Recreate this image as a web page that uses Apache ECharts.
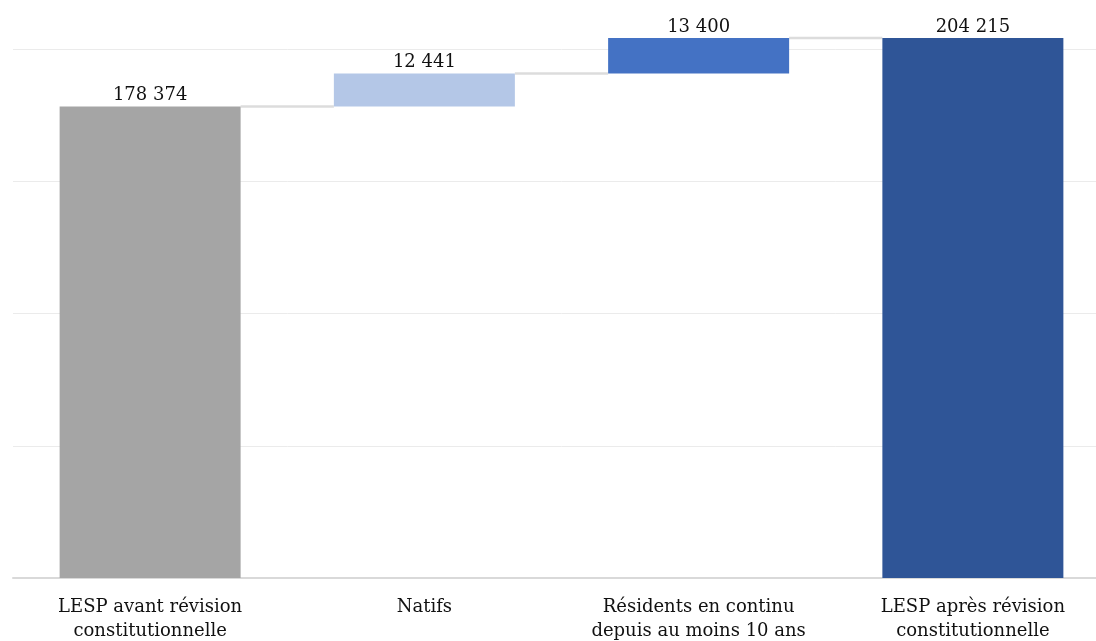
<!DOCTYPE html>
<html>
<head>
<meta charset="utf-8">
<script src="https://cdn.jsdelivr.net/npm/echarts@6/dist/echarts.min.js"></script>
<style>
  html, body { margin: 0; padding: 0; background: #ffffff; overflow: hidden; }
  body { width: 1096px; height: 641px; position: relative; }
  /* plot area runs past the right and top edges of the page */
  #chart { position: absolute; left: 0; top: -90px; width: 1110px; height: 731px; }
</style>
</head>
<body>
<div id="chart"></div>
<script>
// Categories of the waterfall
const categories = [
  'LESP avant révision\nconstitutionnelle',
  'Natifs',
  'Résidents en continu\ndepuis au moins 10 ans',
  'LESP après révision\nconstitutionnelle'
];
// Step values: starting total, two additions, final total
const steps = [178374, 12441, 13400, 204215];
// Which steps are totals (drawn from zero)
const isTotal = [true, false, false, true];
const barColors = ['#a5a5a5', '#b4c7e7', '#4472c4', '#2f5597'];

// Invisible base under each floating bar, and the running top of each bar
const base = [];
const tops = [];
let running = 0;
steps.forEach((v, i) => {
  if (isTotal[i]) {
    base.push(0);
    running = v;
  } else {
    base.push(running);
    running += v;
  }
  tops.push(running);
});

const fmt = n => String(n).replace(/\B(?=(\d{3})+(?!\d))/g, ' ');
const BAR_RATIO = 0.66;
const FONT = 'DejaVu Serif';

const chart = echarts.init(document.getElementById('chart'));
chart.setOption({
  animation: false,
  backgroundColor: '#ffffff',
  grid: { left: 13, right: 0, top: 7, bottom: 63, containLabel: false, outerBoundsMode: 'none' },
  xAxis: {
    type: 'category',
    data: categories,
    axisLine: { show: true, lineStyle: { color: '#d9d9d9', width: 2 } },
    axisTick: { show: false },
    axisLabel: {
      color: '#111111',
      fontFamily: FONT,
      fontSize: 18,
      lineHeight: 24,
      margin: 17,
      interval: 0
    }
  },
  yAxis: {
    type: 'value',
    min: 0,
    max: 250000,
    interval: 50000,
    axisLine: { show: false },
    axisTick: { show: false },
    axisLabel: { show: false },
    splitLine: { show: true, lineStyle: { color: '#ebebeb', width: 1 } }
  },
  series: [
    {
      // connectors between consecutive bar tops
      type: 'custom',
      z: 1,
      data: tops.slice(0, -1).map((t, i) => [i, t]),
      renderItem: function (params, api) {
        const p = api.coord([api.value(0), api.value(1)]);
        const band = api.size([1, 0])[0];
        const half = band * BAR_RATIO / 2;
        return {
          type: 'line',
          shape: { x1: p[0] + half, y1: p[1], x2: p[0] + band - half, y2: p[1] },
          style: { stroke: '#dcdcdc', lineWidth: 2.5 }
        };
      }
    },
    {
      type: 'bar',
      stack: 'w',
      barWidth: (BAR_RATIO * 100) + '%',
      itemStyle: { color: 'transparent' },
      emphasis: { disabled: true },
      data: base
    },
    {
      type: 'bar',
      stack: 'w',
      z: 2,
      data: steps.map((v, i) => ({ value: v, itemStyle: { color: barColors[i] } })),
      label: {
        show: true,
        position: 'top',
        distance: 2,
        color: '#111111',
        fontFamily: FONT,
        fontSize: 18,
        formatter: p => fmt(p.value)
      }
    }
  ]
});
</script>
</body>
</html>
